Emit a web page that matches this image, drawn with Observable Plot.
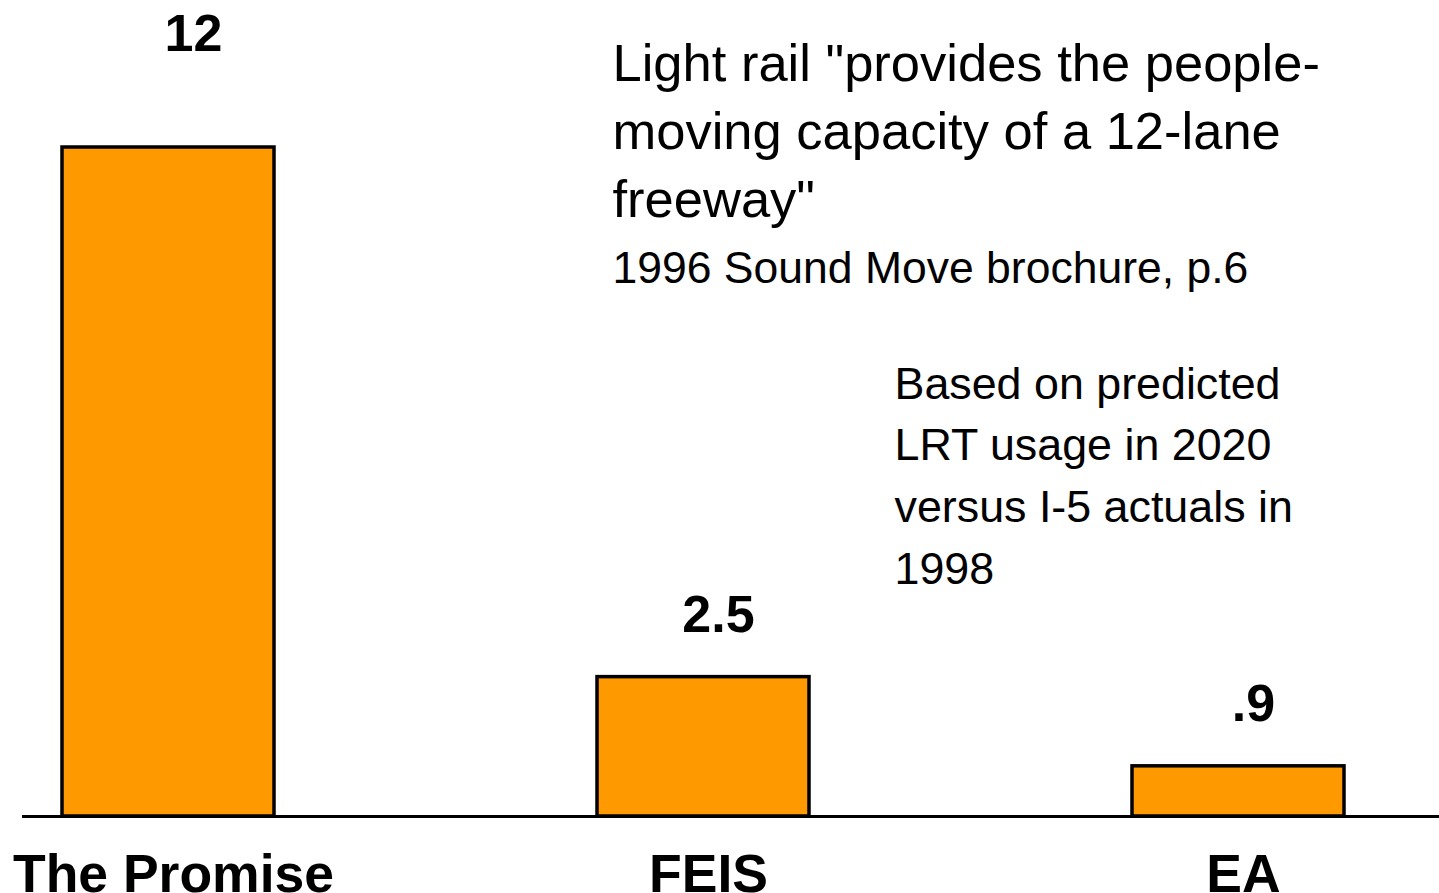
<!DOCTYPE html>
<html>
<head>
<meta charset="utf-8">
<script src="https://cdn.jsdelivr.net/npm/d3@7"></script>
<script src="https://cdn.jsdelivr.net/npm/@observablehq/plot@0.6"></script>
<style>
  html, body { margin: 0; padding: 0; background: #ffffff; }
  #chart { width: 1439px; height: 893px; overflow: hidden; }
</style>
</head>
<body>
<div id="chart"></div>
<script>
// ---- data ----
const categories = ["The Promise", "FEIS", "EA"];
const values = [12, 2.5, 0.9];
const valueLabels = ["12", "2.5", ".9"];
const quoteText = "Light rail \"provides the people-\nmoving capacity of a 12-lane\nfreeway\"";
const sourceText = "1996 Sound Move brochure, p.6";
const noteText = "Based on predicted\nLRT usage in 2020\nversus I-5 actuals in\n1998";

const data = categories.map((c, i) => ({category: c, value: values[i], label: valueLabels[i]}));
const maxValue = d3.max(values);
const tallest = data.filter(d => d.value === maxValue);
const others = data.filter(d => d.value !== maxValue);

const font = "'Liberation Sans', Arial, Helvetica, sans-serif";

const chart = Plot.plot({
  width: 1439,
  height: 893,
  marginLeft: 22,
  marginRight: 0,
  marginTop: 0,
  marginBottom: 77,
  style: {fontFamily: font, color: "#000", background: "#fff", overflow: "visible"},
  x: {domain: categories, range: [61.5, 1343.5], paddingInner: 0.604, paddingOuter: 0},
  y: {domain: [0, 12], range: [816, 147], axis: null},
  marks: [
    Plot.barY(data, {x: "category", y: "value", fill: "#FF9900", stroke: "#000", strokeWidth: 3.5, inset: 0}),
    Plot.ruleY([0], {stroke: "#000", strokeWidth: 3}),
    Plot.axisX({tickSize: 0, tickPadding: 37, fontSize: 53.5, fontWeight: "bold", fill: "#000", dx: 5, label: null}),
    Plot.text(tallest, {x: "category", y: "value", text: "label", lineAnchor: "bottom", dy: -97, dx: 25, fontSize: 52, fontWeight: "bold", fill: "#000"}),
    Plot.text(others, {x: "category", y: "value", text: "label", lineAnchor: "bottom", dy: -45, dx: 15, fontSize: 52, fontWeight: "bold", fill: "#000"}),
    Plot.text([quoteText], {frameAnchor: "top-left", textAnchor: "start", lineAnchor: "bottom", dx: 590, dy: 216, fontSize: 52.5, lineHeight: 1.29, fill: "#000"}),
    Plot.text([sourceText], {frameAnchor: "top-left", textAnchor: "start", lineAnchor: "bottom", dx: 590, dy: 282, fontSize: 44.5, fill: "#000"}),
    Plot.text([noteText], {frameAnchor: "top-left", textAnchor: "start", lineAnchor: "bottom", dx: 872, dy: 583, fontSize: 44.8, lineHeight: 1.375, fill: "#000"})
  ]
});
document.getElementById("chart").appendChild(chart);
</script>
</body>
</html>
